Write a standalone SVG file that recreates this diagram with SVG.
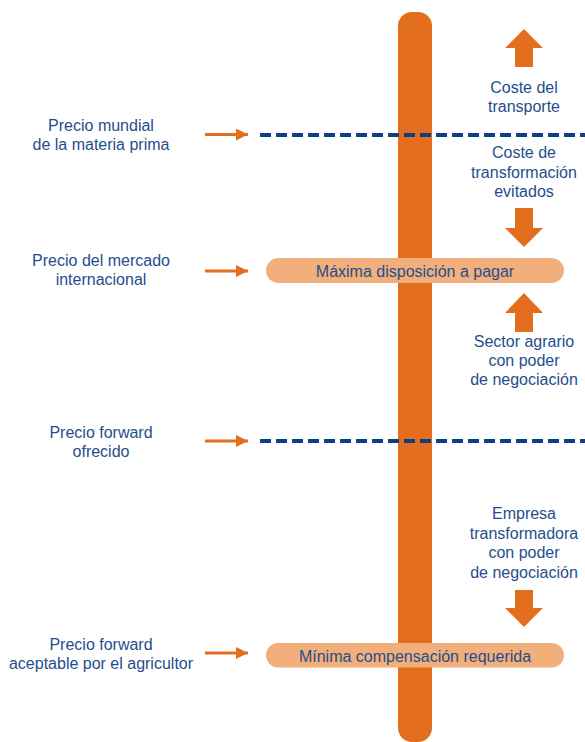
<svg xmlns="http://www.w3.org/2000/svg" width="585" height="742" viewBox="0 0 585 742">
<style>
.t{font-family:"Liberation Sans",Arial,sans-serif;font-size:16px;fill:#1F4E8C;text-anchor:middle}
.dash{stroke:#0E3F7E;stroke-width:4;stroke-dasharray:11 5;fill:none}
.ptr{stroke:#E36F1E;stroke-width:3;fill:none}
.ah{fill:#E36F1E}
.big{fill:#E36F1E}
.pill{fill:#F2AE7B}
</style>
<defs>
<marker id="m" viewBox="0 0 12 12" refX="12" refY="6" markerWidth="12" markerHeight="12" markerUnits="userSpaceOnUse" orient="auto">
<path d="M0,0 L12,6 L0,12 Z" fill="#E36F1E"/>
</marker>
</defs>
<rect x="0" y="0" width="585" height="742" fill="#fff"/>
<g id="bar"><rect x="398" y="12" width="34" height="730" rx="14" class="big"/></g>
<g id="connectors">
<line x1="260" y1="135" x2="585" y2="135" class="dash"/>
<line x1="260" y1="441" x2="585" y2="441" class="dash"/>
<line x1="205" y1="134.5" x2="248" y2="134.5" class="ptr" marker-end="url(#m)"/>
<line x1="205" y1="271" x2="248" y2="271" class="ptr" marker-end="url(#m)"/>
<line x1="205" y1="441" x2="248" y2="441" class="ptr" marker-end="url(#m)"/>
<line x1="205" y1="653" x2="248" y2="653" class="ptr" marker-end="url(#m)"/>
<polygon class="ah" points="524,29 543,48 533,48 533,67 515,67 515,48 505,48"/>
<polygon class="ah" points="524,247 543,228 533,228 533,208 515,208 515,228 505,228"/>
<polygon class="ah" points="524,293 543,313 533,313 533,332 515,332 515,313 505,313"/>
<polygon class="ah" points="524,627 543,608 533,608 533,590 515,590 515,608 505,608"/>
</g>
<g id="max">
<rect x="266" y="258" width="298" height="25" rx="12.5" class="pill"/>
<text class="t" x="415" y="276.5">Máxima disposición a pagar</text>
</g>
<g id="min">
<rect x="266" y="643" width="298" height="24.5" rx="12.25" class="pill"/>
<text class="t" x="415" y="661.5">Mínima compensación requerida</text>
</g>
<g id="l1"><text class="t" x="101" y="131">Precio mundial</text><text class="t" x="101" y="150">de la materia prima</text></g>
<g id="l2"><text class="t" x="101" y="266">Precio del mercado</text><text class="t" x="101" y="285">internacional</text></g>
<g id="l3"><text class="t" x="101" y="438">Precio forward</text><text class="t" x="101" y="457">ofrecido</text></g>
<g id="l4"><text class="t" x="101" y="650">Precio forward</text><text class="t" x="101" y="669">aceptable por el agricultor</text></g>
<g id="r1"><text class="t" x="524" y="93">Coste del</text><text class="t" x="524" y="112">transporte</text></g>
<g id="r2"><text class="t" x="524" y="158">Coste de</text><text class="t" x="524" y="178">transformación</text><text class="t" x="524" y="197">evitados</text></g>
<g id="r3"><text class="t" x="524" y="347">Sector agrario</text><text class="t" x="524" y="366">con poder</text><text class="t" x="524" y="385">de negociación</text></g>
<g id="r4"><text class="t" x="524" y="519">Empresa</text><text class="t" x="524" y="539">transformadora</text><text class="t" x="524" y="558">con poder</text><text class="t" x="524" y="578">de negociación</text></g>
</svg>
